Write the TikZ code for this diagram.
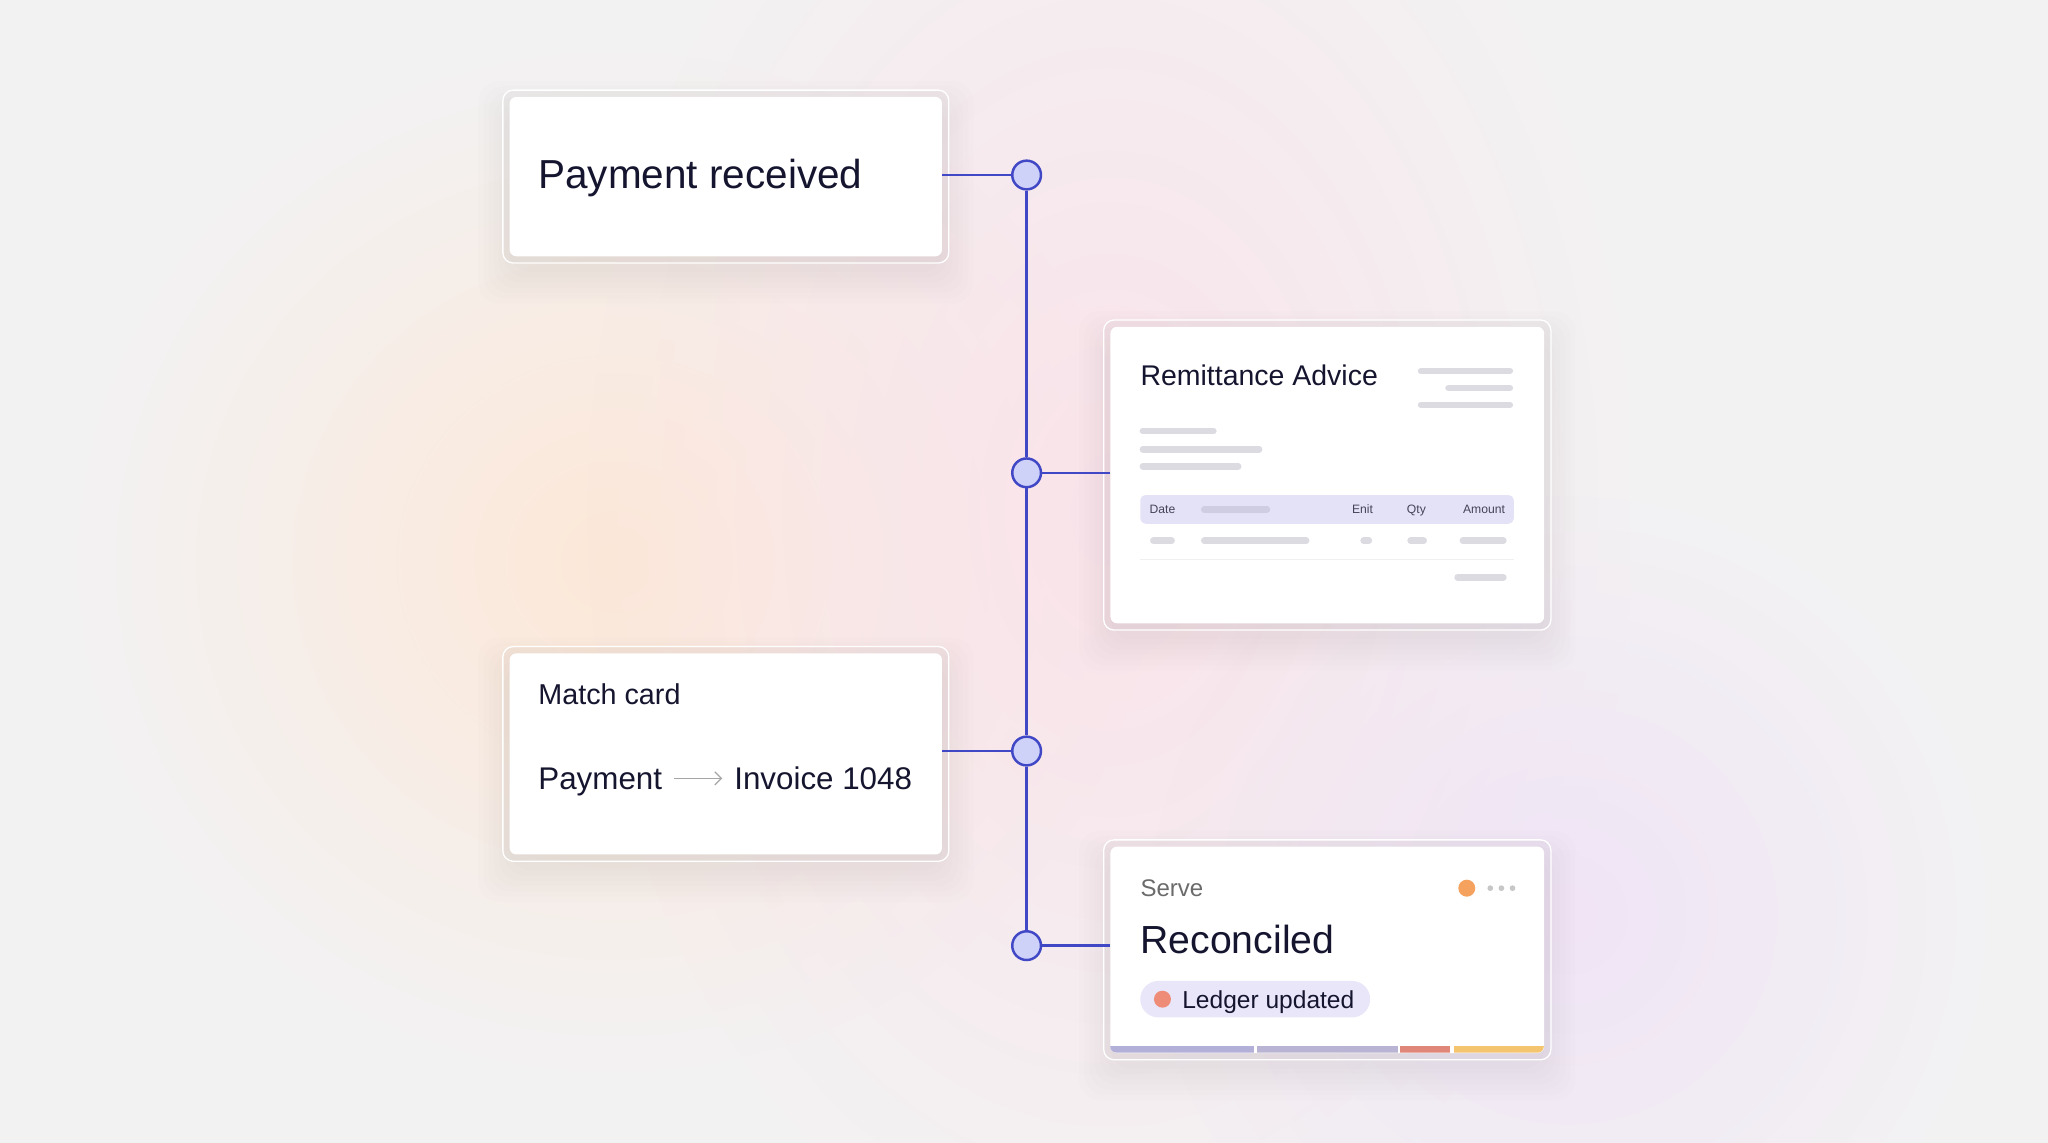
\documentclass[tikz,border=0pt]{standalone}
\usepackage{fontspec}
\setmainfont{Liberation Sans}
\usepackage{xcolor}
\usetikzlibrary{positioning,calc,fadings,arrows.meta,backgrounds}

\definecolor{ink}{HTML}{15152F}
\definecolor{railblue}{HTML}{4148C6}
\definecolor{railfill}{HTML}{CED1F8}
\definecolor{skel}{HTML}{DCDBE1}
\definecolor{band}{HTML}{E4E2F6}
\definecolor{bandbar}{HTML}{CFCDE2}
\definecolor{pillbg}{HTML}{E8E6F8}
\definecolor{bgbase}{HTML}{F3F2F3}
\definecolor{peach}{HTML}{FDE8D8}
\definecolor{blush}{HTML}{FAE3EA}
\definecolor{lilac}{HTML}{F0E4F6}
\definecolor{statusorange}{HTML}{F4A25E}
\definecolor{ledgerred}{HTML}{EE8C78}
\definecolor{segA}{HTML}{B2AFD8}
\definecolor{segB}{HTML}{B9B4D3}
\definecolor{segC}{HTML}{E0877A}
\definecolor{segD}{HTML}{F4C46E}
\tikzfading[name=glow, inner color=transparent!0, outer color=transparent!100]
\pgfdeclarelayer{back}
\pgfsetlayers{back,background,main}

\begin{document}
\begin{tikzpicture}[x=1pt, y=-1pt,
  card/.style = {fill=white, rounded corners=5pt, anchor=north west, inner sep=0pt},
  frame/.style = {fill=black, fill opacity=0.02, draw=white, line width=1pt, rounded corners=8pt},
  haze/.style = {fill=black, opacity=0.007, rounded corners=16pt},
  dot/.style = {circle, draw=railblue, fill=railfill, line width=1.9pt, minimum size=22pt, inner sep=0pt},
  link/.style = {draw=railblue, line width=1.9pt},
  txt/.style = {anchor=base west, inner sep=0pt, text=ink},
  skelbar/.style = {line cap=round, line width=5pt, draw=skel},
  head/.style = {txt, text=ink!80, font=\fontsize{9.3}{11}\selectfont}
]
\useasboundingbox (0,0) rectangle (1568,875);

% cards
\node[card, minimum width=331pt, minimum height=122pt] (paid) at (390,74) {};
\node[card, minimum width=332pt, minimum height=227pt] (advice) at (850,250) {};
\node[card, minimum width=331pt, minimum height=154pt] (match) at (390,500) {};
\node[card, minimum width=332pt, minimum height=158pt] (done) at (850,648) {};

% soft background, shadows and glass frames
\begin{pgfonlayer}{back}
\fill[bgbase] (0,0) rectangle (1568,875);
\fill[peach, path fading=glow] (60,40) rectangle (880,820);
\fill[blush, path fading=glow] (450,-200) rectangle (1250,980);
\fill[lilac, path fading=glow] (880,380) rectangle (1520,1020);
\end{pgfonlayer}
\begin{pgfonlayer}{background}
\foreach \c in {paid,advice,match,done} {
  \foreach \s in {0,4,8,12,16,20,24}
    \fill[haze] ($(\c.north west)+(-\s,-\s+12)$) rectangle ($(\c.south east)+(\s,\s+12)$);
  \draw[frame] ($(\c.north west)+(-5,-5)$) rectangle ($(\c.south east)+(5,5)$);
}
\end{pgfonlayer}

% timeline
\node[dot] (d1) at (786,134) {};
\node[dot] (d2) at (786,362) {};
\node[dot] (d3) at (786,575) {};
\node[dot] (d4) at (786,724) {};
\draw[link] (d1) -- (d2) (d2) -- (d3) (d3) -- (d4);
\draw[link] (paid.east |- d1) -- (d1);
\draw[link] (d2) -- (advice.west |- d2);
\draw[link] (match.east |- d3) -- (d3);
\draw[link] (d4) -- (done.west |- d4);

% payment received
\node[txt, font=\fontsize{31}{36}\selectfont] (paidlbl) at (412,144) {Payment received};

% remittance advice
\node[txt, font=\fontsize{21.8}{26}\selectfont] (advlbl) at (873,295) {Remittance Advice};
\draw[skelbar] (1088,284) -- (1156,284);
\draw[skelbar] (1109,297) -- (1156,297);
\draw[skelbar] (1088,310) -- (1156,310);
\draw[skelbar] (875,330) -- (929,330);
\draw[skelbar] (875,344) -- (964,344);
\draw[skelbar] (875,357) -- (948,357);
\fill[band, rounded corners=4pt] (873,379) rectangle (1159,401);
\node[head] (hdate) at (880,393.3) {Date};
\draw[skelbar, draw=bandbar] (922,390) -- (970,390);
\node[head] (henit) at (1035,393.3) {Enit};
\node[head] (hqty) at (1077,393.3) {Qty};
\node[head] (hamt) at (1120,393.3) {Amount};
\draw[skelbar] (883,414) -- (897,414);
\draw[skelbar] (922,414) -- (1000,414);
\draw[skelbar] (1044,414) -- (1048,414);
\draw[skelbar] (1080,414) -- (1090,414);
\draw[skelbar] (1120,414) -- (1151,414);
\draw[black!6, line width=0.6pt] (873,428) -- (1159,428);
\draw[skelbar] (1116,442) -- (1151,442);

% match card
\node[txt, font=\fontsize{22}{26}\selectfont] (matchlbl) at (412,539) {Match card};
\node[txt, font=\fontsize{24}{28}\selectfont] (pay) at (412,604.5) {Payment};
\node[txt, font=\fontsize{24}{28}\selectfont] (inv) at (562,604.5) {Invoice 1048};
\draw[black!35, line width=1pt, -{Straight Barb[length=5pt,width=10pt]}, shorten <=9pt, shorten >=9pt]
  (inv.west -| pay.east) -- (inv.west);

% reconciled card
\node[txt, text=black!58, font=\fontsize{18.4}{22}\selectfont] (serve) at (873,686.5) {Serve};
\node[txt, font=\fontsize{30}{34}\selectfont] (recon) at (873,730) {Reconciled};
\fill[statusorange] (1123,680) circle (6.5pt);
\foreach \x in {1141,1149.5,1158}
  \fill[black!22] (\x,680) circle (2.2pt);
\fill[pillbg, rounded corners=14pt] (873,751) rectangle (1049,779);
\fill[ledgerred] (890,765) circle (6.5pt);
\node[txt, font=\fontsize{18.8}{22}\selectfont] (ledger) at (905,772) {Ledger updated};
\begin{scope}
  \clip[rounded corners=5pt] (850,648) rectangle (1182,806);
  \fill[segA] (850,801) rectangle (960,806);
  \fill[segB] (962,801) rectangle (1070,806);
  \fill[segC] (1072,801) rectangle (1110,806);
  \fill[segD] (1113,801) rectangle (1182,806);
\end{scope}
\end{tikzpicture}
\end{document}
